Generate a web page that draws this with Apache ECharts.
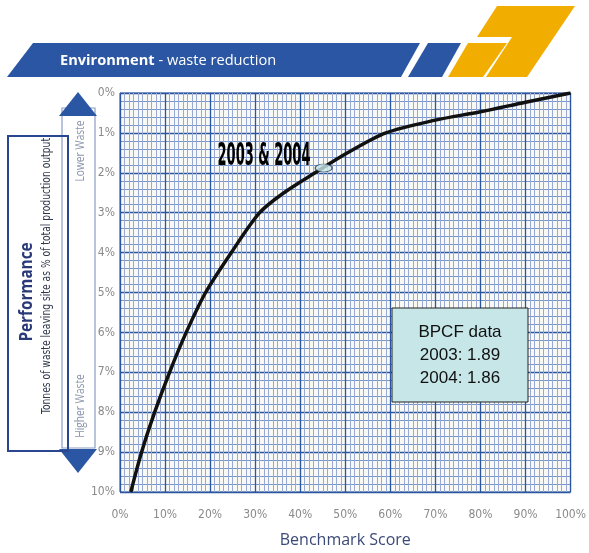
<!DOCTYPE html>
<html><head><meta charset="utf-8">
<script src="https://cdn.jsdelivr.net/npm/echarts@6/dist/echarts.min.js"></script>
<style>html,body{margin:0;padding:0;background:#fff}#c{width:589px;height:553px}</style>
</head><body><div id="c"></div>
<script>
// Benchmark score (%) and performance (% of output leaving site as waste)
const benchmark = [2.4, 4.8, 7.7, 11, 14.7, 19.0, 24.7, 31.0, 36.4, 43.3, 50.5, 59, 70, 80, 90, 100];
const performance = [10, 9, 8, 7, 6, 5, 4, 3, 2.5, 2, 1.5, 1, 0.68, 0.47, 0.23, 0];
const marker = [45.2, 1.88];
const markerLabel = '2003 & 2004';
const boxLines = ['BPCF data', '2003: 1.89', '2004: 1.86'];

const chart = echarts.init(document.getElementById('c'), null, {renderer: 'canvas'});
const narrow = '"DejaVu Sans Condensed", "Liberation Sans Narrow", sans-serif';
const blue = '#2b56a3', yellow = '#f1ae00';

// measure label width to squeeze into an Impact-like narrow look
const mc = document.createElement('canvas').getContext('2d');
mc.font = 'bold 32px "DejaVu Sans Condensed"';
const lblScale = 93 / mc.measureText(markerLabel).width;
mc.font = '12px "DejaVu Sans Condensed"';
const subScale = 276 / mc.measureText('Tonnes of waste leaving site as % of total production output').width;

chart.setOption({
  animation: false,
  backgroundColor: '#ffffff',
  grid: {left: 120, right: 14, top: 93, bottom: 59, show: true, backgroundColor: '#f8f8f4', borderColor: '#2a55a0', borderWidth: 1},
  xAxis: {
    type: 'value', min: 0, max: 100, interval: 10,
    name: 'Benchmark Score', nameLocation: 'middle', nameGap: 40,
    nameTextStyle: {color: '#3c4a78', fontSize: 16, fontFamily: '"Open Sans", sans-serif'},
    axisLine: {show: false}, axisTick: {show: false},
    axisLabel: {color: '#8a8a8a', fontSize: 12, fontFamily: narrow, margin: 17, formatter: v => v + '%'},
    splitLine: {show: true, lineStyle: {color: '#2a55a0', width: 1.3}},
    minorTick: {show: false, splitNumber: 10},
    minorSplitLine: {show: true, lineStyle: {color: '#98a9d4', width: 1}}
  },
  yAxis: {
    type: 'value', min: 0, max: 10, interval: 1, inverse: true,
    axisLine: {show: false}, axisTick: {show: false},
    axisLabel: {color: '#8a8a8a', fontSize: 12, fontFamily: narrow, margin: 5, formatter: v => v + '%'},
    splitLine: {show: true, lineStyle: {color: '#2a55a0', width: 1.3}},
    minorTick: {show: false, splitNumber: 5},
    minorSplitLine: {show: true, lineStyle: {color: '#7a96cf', width: 1}}
  },
  series: [
    {
      type: 'line', smooth: 0.3, symbol: 'none',
      data: benchmark.map((b, i) => [b, performance[i]]),
      lineStyle: {color: '#111', width: 3.5}, z: 5
    },
    {
      type: 'scatter', data: [marker], symbol: 'circle', symbolSize: [17, 8],
      itemStyle: {color: '#c8e9ea', borderColor: '#27384c', borderWidth: 1}, z: 6
    }
  ],
  graphic: [
    // header banner
    {type: 'polygon', shape: {points: [[33, 43], [420, 43], [401, 77], [7, 77]]}, style: {fill: blue}},
    {type: 'polygon', shape: {points: [[428, 43], [461, 43], [442, 77], [408, 77]]}, style: {fill: blue}},
    {type: 'polygon', shape: {points: [[497, 6], [575, 6], [527, 77], [486, 77], [512, 37], [477, 37]]}, style: {fill: yellow}},
    {type: 'polygon', shape: {points: [[468, 43], [507, 43], [483, 77], [448, 77]]}, style: {fill: yellow}},
    {type: 'text', left: 60, top: 53, style: {
      text: '{b|Environment}{n| - waste reduction}',
      rich: {b: {fill: '#fff', fontWeight: 'bold', fontSize: 14.6, fontFamily: '"Open Sans", sans-serif'},
             n: {fill: '#fff', fontSize: 14.6, fontFamily: '"Open Sans", sans-serif'}}
    }},
    // arrow bar
    {type: 'rect', shape: {x: 62, y: 108, width: 33, height: 340}, style: {fill: '#fff', stroke: '#8b9cc4', lineWidth: 1.2}},
    {type: 'polygon', shape: {points: [[78, 92], [97, 116], [59, 116]]}, style: {fill: blue}},
    {type: 'polygon', shape: {points: [[59, 449], [97, 449], [78, 473]]}, style: {fill: blue}},
    {type: 'text', x: 80, y: 151, rotation: Math.PI / 2, scaleX: 0.78, style: {text: 'Lower Waste', fill: '#8a94ac', fontSize: 13, fontFamily: '"Open Sans", sans-serif', align: 'center', verticalAlign: 'middle'}},
    {type: 'text', x: 80, y: 406, rotation: Math.PI / 2, scaleX: 0.78, style: {text: 'Higher Waste', fill: '#8a94ac', fontSize: 13, fontFamily: '"Open Sans", sans-serif', align: 'center', verticalAlign: 'middle'}},
    // performance box
    {type: 'rect', shape: {x: 8, y: 136, width: 60, height: 315}, style: {fill: 'rgba(255,255,255,0)', stroke: '#2a4690', lineWidth: 2}},
    {type: 'text', x: 27, y: 292, rotation: Math.PI / 2, scaleX: 0.9, style: {text: 'Performance', fill: '#2a3a78', fontSize: 17, fontWeight: 'bold', fontFamily: '"Open Sans", sans-serif', align: 'center', verticalAlign: 'middle'}},
    {type: 'text', x: 47, y: 276, rotation: Math.PI / 2, scaleX: subScale, style: {text: 'Tonnes of waste leaving site as % of total production output', fill: '#333a4e', fontSize: 12, fontFamily: '"DejaVu Sans Condensed", sans-serif', align: 'center', verticalAlign: 'middle'}},
    // marker annotation
    {type: 'text', z: 20, x: 264, y: 157, scaleX: lblScale, style: {
      text: markerLabel, fill: '#000', fontSize: 32, fontWeight: 'bold', fontFamily: '"DejaVu Sans Condensed", sans-serif',
      align: 'center', verticalAlign: 'middle',
      shadowColor: 'rgba(70,70,70,0.75)', shadowOffsetX: 2, shadowOffsetY: 2, shadowBlur: 2
    }},
    // data box
    {type: 'rect', z: 10, shape: {x: 392, y: 308, width: 136, height: 94}, style: {fill: '#c6e6e8', stroke: '#222', lineWidth: 1}},
    {type: 'text', z: 11, x: 460, y: 332, style: {text: boxLines[0], fill: '#111', fontSize: 17, fontFamily: '"Liberation Sans", Arial, sans-serif', align: 'center', verticalAlign: 'middle'}},
    {type: 'text', z: 11, x: 460, y: 355, style: {text: boxLines[1], fill: '#111', fontSize: 17, fontFamily: '"Liberation Sans", Arial, sans-serif', align: 'center', verticalAlign: 'middle'}},
    {type: 'text', z: 11, x: 460, y: 378, style: {text: boxLines[2], fill: '#111', fontSize: 17, fontFamily: '"Liberation Sans", Arial, sans-serif', align: 'center', verticalAlign: 'middle'}}
  ]
});
</script></body></html>
